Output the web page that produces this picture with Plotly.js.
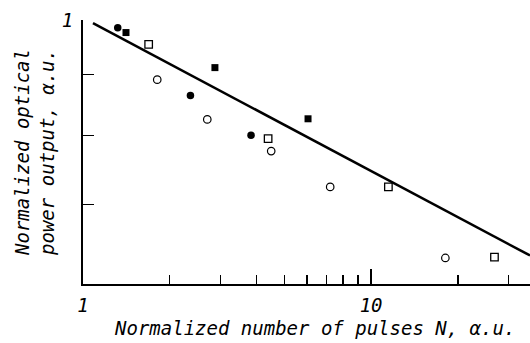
<!DOCTYPE html>
<html>
<head>
<meta charset="utf-8">
<script src="https://cdn.plot.ly/plotly-3.0.1.min.js"></script>
<style>html,body{margin:0;padding:0;background:#fff;}#chart{width:530px;height:343px;}</style>
</head>
<body>
<div id="chart"></div>
<script>
// Data (log-log axes)
var filledCirclesX = [1.32, 2.36, 3.83];
var filledCirclesY = [0.985, 0.864, 0.800];
var filledSquaresX = [1.41, 2.87, 6.04];
var filledSquaresY = [0.976, 0.912, 0.826];
var openSquaresX = [1.69, 4.39, 11.48, 26.8];
var openSquaresY = [0.954, 0.795, 0.724, 0.632];
var openCirclesX = [1.81, 2.70, 4.50, 7.21, 18.1];
var openCirclesY = [0.891, 0.825, 0.776, 0.724, 0.631];
var fitLineX = [1.083, 35.6];
var fitLineY = [0.994, 0.634];

var xMajorTicks = [1, 10];
var xMajorLabels = ['1', '10'];
var xMinorTicks = [2, 3, 4, 5, 6, 7, 8, 9, 20, 30];
var yMajorTicks = [1];
var yMajorLabels = ['1'];
var yMinorTicks = [0.9, 0.8, 0.7];

var FONT = 'DejaVu Sans Mono, monospace';
var fontSpec = {family: FONT, size: 19, color: '#000', style: 'italic'};

var traces = [
  {x: fitLineX, y: fitLineY, mode: 'lines', line: {color: '#000', width: 2.5}, hoverinfo: 'skip'},
  {x: filledCirclesX, y: filledCirclesY, mode: 'markers', marker: {symbol: 'circle', size: 7.5, color: '#000'}},
  {x: filledSquaresX, y: filledSquaresY, mode: 'markers', marker: {symbol: 'square', size: 7, color: '#000'}},
  {x: openSquaresX, y: openSquaresY, mode: 'markers', marker: {symbol: 'square-open', size: 7.5, color: '#000', line: {width: 1.3}}},
  {x: openCirclesX, y: openCirclesY, mode: 'markers', marker: {symbol: 'circle-open', size: 7.5, color: '#000', line: {width: 1.2}}}
];

var layout = {
  width: 530, height: 343,
  margin: {l: 83, r: 0, t: 20, b: 59},
  paper_bgcolor: '#fff', plot_bgcolor: '#fff',
  showlegend: false,
  font: fontSpec,
  xaxis: {
    type: 'log', range: [0, Math.log10(35.6)],
    showgrid: false, zeroline: false,
    showline: true, linecolor: '#000', linewidth: 2, mirror: false,
    ticks: 'inside', ticklen: 15, tickwidth: 1.5, tickcolor: '#000',
    tickmode: 'array', tickvals: xMajorTicks, ticktext: xMajorLabels,
    ticklabelstandoff: 3,
    tickfont: fontSpec,
    minor: {tickmode: 'array', tickvals: xMinorTicks, ticks: 'inside', ticklen: 9, tickwidth: 1.5, tickcolor: '#000', showgrid: false}
  },
  yaxis: {
    type: 'log', range: [Math.log10(0.6), 0],
    showgrid: false, zeroline: false,
    showline: true, linecolor: '#000', linewidth: 2, mirror: false,
    ticks: 'inside', ticklen: 15, tickwidth: 1.5, tickcolor: '#000',
    tickmode: 'array', tickvals: yMajorTicks, ticktext: yMajorLabels,
    ticklabelstandoff: 4,
    tickfont: fontSpec,
    minor: {tickmode: 'array', tickvals: yMinorTicks, ticks: 'inside', ticklen: 11, tickwidth: 1.5, tickcolor: '#000', showgrid: false},
    title: {text: 'Normalized optical<br>power output, α.u.', font: fontSpec, standoff: 2}
  },
  annotations: [
    {xref: 'paper', yref: 'paper', x: (314 - 83) / 447, y: -0.165, xanchor: 'center', yanchor: 'middle',
     showarrow: false, text: 'Normalized number of pulses N, α.u.', font: fontSpec}
  ]
};

Plotly.newPlot('chart', traces, layout, {displayModeBar: false, staticPlot: true});
</script>
</body>
</html>
